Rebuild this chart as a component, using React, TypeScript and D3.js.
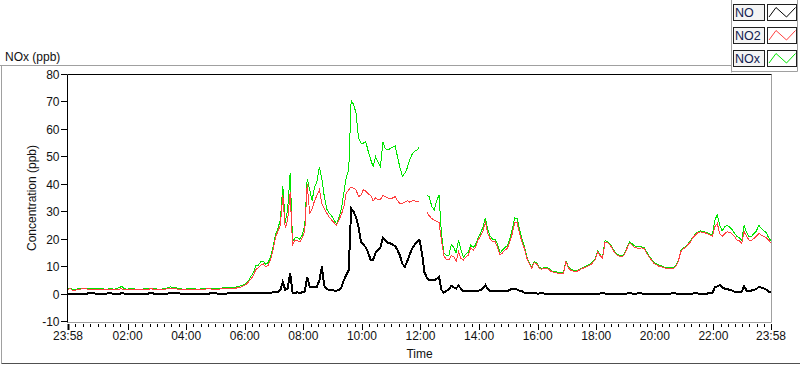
import React, { useEffect, useRef } from 'react'
import * as d3 from 'd3'

// sample spacing of the logged data, minutes
const STEP_MIN = 5
const START = new Date(2020, 0, 1, 23, 58)
const END = new Date(2020, 0, 2, 23, 58)

const TICK_HOURS = [2, 4, 6, 8, 10, 12, 14, 16, 18, 20, 22]
const Y_TICKS = [-10, 0, 10, 20, 30, 40, 50, 60, 70, 80]

const SERIES_NAMES = ['NO', 'NO2', 'NOx']

// one row per hour (12 samples, 5 min apart) starting 23:58, last value 23:58 next day
const NO_PPB = [
  0.2, 0.2, 0.1, 0.2, 0.2, 0.1, 0.1, 0.2, 0.2, 0.3, 0.3, 0.2,
  0.2, 0.1, 0.1, 0.2, 0.2, 0.3, 0.2, 0.2, 0.2, 0.1, 0.3, 0.2,
  0.1, 0.2, 0.2, 0.2, 0.2, 0.1, 0.1, 0.2, 0.2, 0.2, 0.3, 0.2,
  0.2, 0.2, 0.2, 0.1, 0.1, 0.2, 0.3, 0.3, 0.4, 0.3, 0.2, 0.2,
  0.2, 0.1, 0.1, 0.2, 0.2, 0.2, 0.2, 0.1, 0.1, 0.2, 0.2, 0.3,
  0.3, 0.2, 0.2, 0.2, 0.2, 0.2, 0.3, 0.3, 0.2, 0.3, 0.3, 0.3,
  0.3, 0.3, 0.3, 0.4, 0.4, 0.5, 0.5, 0.4, 0.5, 0.3, 0.4, 0.5,
  0.6, 0.8, 0.8, 1.5, 4.5, 1.5, 2, 7.6, 0.5, 0.5, 0.6, 0.5,
  0.6, 1, 6.3, 2.7, 2.5, 2.7, 2.7, 5, 10, 3, 1.8, 1.5,
  1.5, 1.3, 1.2, 1.5, 2.5, 5, 7, 8.7, 31.2, 30, 28, 24.5,
  19, 18, 17, 15, 12.4, 12.5, 15, 16, 17, 20.4, 19.5, 18.5,
  18.5, 18, 17.5, 16, 14, 11, 10, 12, 14.5, 16.5, 18, 19,
  19.7, 15, 8, 6, 5, 5, 5, 5.5, 6.3, 1.5, 0.5, 1.2,
  1.6, 3, 2.4, 2, 3, 2, 1, 1, 1.1, 1.1, 1, 1,
  1.2, 1.5, 2, 3.3, 1.8, 1.1, 1.1, 1, 1, 1, 1, 1,
  1.1, 1.5, 2, 2, 1.6, 1.2, 1, 0.5, 0.3, 0.3, 0.3, 0.3,
  0.2, 0.2, 0.3, 0.2, 0.2, 0.1, 0.2, 0.2, 0.2, 0.1, 0.2, 0.2,
  0.2, 0.2, 0.1, 0.2, 0.2, 0.2, 0.1, 0.2, 0.2, 0.2, 0.2, 0.2,
  0.2, 0.2, 0.2, 0.3, 0.2, 0.2, 0.2, 0.2, 0.1, 0.2, 0.2, 0.2,
  0.2, 0.2, 0.3, 0.2, 0.2, 0.2, 0.3, 0.2, 0.2, 0.2, 0.1, 0.2,
  0.2, 0.2, 0.2, 0.1, 0.2, 0.2, 0.2, 0.2, 0.3, 0.2, 0.2, 0.2,
  0.2, 0.2, 0.2, 0.2, 0.2, 0.3, 0.2, 0.2, 0.2, 0.2, 0.2, 0.3,
  0.3, 2.5, 2.8, 3.3, 2.5, 2, 2, 1.5, 1.3, 0.9, 0.9, 0.9,
  0.9, 2.9, 1.2, 0.9, 1.3, 1.5, 1.8, 2.7, 2.4, 2.1, 1.6, 0.9,
  0.9,
]

const NO2_PPB = [
  1.8, 1.9, 1.3, 1.4, 1.6, 1.7, 2.0, 1.9, 1.8, 1.6, 1.7, 1.8,
  1.6, 1.7, 1.8, 1.6, 1.5, 1.7, 1.6, 1.5, 1.7, 1.8, 1.9, 1.7,
  1.6, 1.7, 1.8, 1.7, 1.6, 1.5, 1.5, 1.6, 1.7, 1.8, 1.9, 1.8,
  1.7, 1.6, 1.6, 1.7, 1.8, 2.0, 2.2, 2.1, 2.0, 1.8, 1.7, 1.6,
  1.6, 1.7, 1.8, 1.7, 1.7, 1.6, 1.6, 1.7, 1.8, 1.9, 1.9, 1.8,
  1.7, 1.8, 1.8, 1.9, 2.0, 2.0, 1.9, 2.0, 2.1, 2.2, 2.4, 2.6,
  3, 3.5, 4.5, 5.5, 7, 9, 9.5, 10.5, 11, 10, 10.5, 12.5,
  16, 20.5, 23, 25, 36, 24, 27, 37, 18, 19.5, 19.5, 19,
  20.5, 23, 40, 29.5, 31, 34, 36, 38, 33, 31, 29.5, 28,
  27, 26, 25, 27, 29, 31.8, 36.8, 38, 39, 38.5, 38, 35.5,
  36, 38, 37.5, 36.5, 36, 34, 35, 34.5, 34.5, 36, 35.5, 35,
  35, 35, 35.5, 34, 33, 33, 33.5, 34, 33.5, 34, 34, 33.5,
  34, null, null, 30, 28.5, 27.5, 27, 26.5, 26, 19.7, 14, 12.5,
  12.4, 14, 13.6, 12, 15.4, 13, 12.4, 13.5, 14.2, 16.7, 16, 17,
  19.7, 21, 23, 26, 22, 20, 19, 19, 17, 14.2, 15, 16,
  16.7, 19, 22, 26, 26, 22, 19, 16.5, 13, 11, 9.4, 11.5,
  11, 9.4, 9, 9.4, 9.4, 9, 8.1, 8, 7.8, 7.5, 7.6, 7.5,
  11.8, 9.5, 8.7, 8.4, 8.1, 8.5, 9, 9.4, 9.8, 10.2, 10.6, 11.5,
  12.5, 15.4, 14, 13, 19, 18.7, 18, 16.5, 15, 14.2, 13.8, 13.6,
  14.5, 16.6, 18.5, 18, 17, 16.8, 16.6, 16.8, 16.6, 15, 13.6, 12.4,
  11.2, 10.8, 10.2, 10, 9.6, 9.4, 9.3, 9.4, 9.4, 10, 11.8, 15.4,
  16.5, 17, 18, 19, 20.5, 21.5, 22.3, 22.7, 22.5, 22.3, 22, 21.5,
  21, 24.5, 25.7, 22, 21, 22, 22.7, 22.5, 22, 21, 19.7, 19.5,
  18.5, 22.7, 21, 19.7, 19.5, 20.3, 21, 22.1, 21.5, 21, 20.5, 19.7,
  18.5,
]

const NOX_PPB = [
  2.0, 2.1, 1.5, 1.7, 1.9, 2.0, 2.2, 2.1, 2.1, 1.9, 1.9, 2.0,
  1.9, 1.9, 2.0, 1.8, 1.8, 1.9, 1.9, 1.8, 2.1, 2.3, 2.8, 2.0,
  1.8, 1.9, 2.1, 1.9, 1.8, 1.8, 1.7, 1.9, 2.0, 2.1, 2.2, 2.0,
  1.9, 1.8, 1.8, 1.9, 2.0, 2.3, 2.6, 2.5, 2.4, 2.1, 1.9, 1.8,
  1.8, 2.0, 2.1, 2.0, 1.9, 1.8, 1.8, 2.0, 2.1, 2.2, 2.2, 2.1,
  2.0, 2.1, 2.1, 2.2, 2.3, 2.3, 2.2, 2.3, 2.4, 2.6, 2.9, 3.0,
  3.4, 4, 5, 6.5, 8, 10.5, 10.5, 11.8, 12, 10.8, 11.5, 13.5,
  17, 21.5, 24, 27, 39.5, 26, 31, 44, 19, 20.5, 20.5, 20,
  21.5, 25, 42, 38, 34, 39, 41, 46.4, 42, 35.5, 31, 29.5,
  28.5, 27, 25.5, 28, 31, 36.8, 42.7, 45, 70.7, 69, 66, 57,
  55, 55, 55.5, 52, 49, 46.4, 50, 48, 46.4, 55.5, 53, 52.5,
  53, 53.5, 54, 50, 46, 43, 44, 46, 49, 51, 52, 52.5,
  53.7, null, null, 36, 35.5, 32, 30.6, 34, 36, 22, 15, 14,
  14, 18, 17, 15, 19.7, 16, 13.5, 14.5, 15.3, 17.8, 17, 18,
  20.5, 22, 24.5, 27.7, 23.5, 21, 20, 20, 18, 15, 16, 17,
  17.5, 20, 23.5, 27.7, 27.5, 23.5, 20, 17.2, 13.5, 11.3, 9.7, 11.8,
  11.3, 9.8, 9.3, 9.7, 9.7, 9.3, 8.4, 8.3, 8.1, 7.8, 8, 7.9,
  12.1, 9.8, 9, 8.7, 8.4, 8.8, 9.3, 9.7, 10.1, 10.5, 10.9, 11.8,
  12.8, 15.7, 14.3, 13.3, 19.5, 19.2, 18.4, 16.9, 15.4, 14.6, 14.1, 13.9,
  14.8, 17, 19, 18.4, 17.6, 17.4, 17.5, 17.2, 17, 15.4, 14, 12.7,
  11.5, 11.1, 10.5, 10.3, 9.9, 9.7, 9.6, 9.7, 9.7, 10.3, 12.1, 15.7,
  16.8, 17.3, 18.3, 19.3, 20.8, 21.8, 22.6, 23, 22.8, 22.6, 22.3, 21.8,
  21.5, 27, 28.8, 25, 23, 24.5, 25, 24.5, 23.5, 22.3, 21, 20.5,
  19.5, 25, 22.5, 21, 21, 22, 23, 25, 24, 23, 22.5, 20.5,
  19.5,
]

const COLORS = { NO: '#000000', NO2: '#ff4040', NOx: '#00e600' }
const FONT = '"Liberation Sans", Arial, sans-serif'

export default function App() {
  const ref = useRef<SVGSVGElement>(null)

  useEffect(() => {
    document.body.style.margin = '0'
    const svg = d3.select(ref.current)
    svg.selectAll('*').remove()

    const left = 68, right = 771, top = 74.5, bottom = 321.5

    const x = d3.scaleTime().domain([START, END]).range([left, right])
    const y = d3.scaleLinear().domain([-10, 80]).range([bottom, top])
    const timeAt = (i: number) => d3.timeMinute.offset(START, i * STEP_MIN)

    // outer panel
    svg.append('text')
      .attr('x', 5).attr('y', 61)
      .attr('font-family', FONT).attr('font-size', 12).attr('fill', '#111')
      .text('NOx (ppb)')
    svg.append('path')
      .attr('d', 'M0,65.5H731.5V72.5')
      .attr('fill', 'none').attr('stroke', '#a0a0a0')
    svg.append('path')
      .attr('d', 'M1.5,65.5V363.5')
      .attr('fill', 'none').attr('stroke', '#a0a0a0')
    svg.append('path')
      .attr('d', 'M1.5,363.5H800')
      .attr('fill', 'none').attr('stroke', '#505050')

    // legend panel
    const legend = svg.append('g')
    legend.append('path')
      .attr('d', 'M731.5,0V71.5H797.5V0')
      .attr('fill', '#fff').attr('stroke', '#a0a0a0')
    SERIES_NAMES.forEach((name, k) => {
      const y0 = 4.5 + k * 23
      legend.append('rect')
        .attr('x', 733.5).attr('y', y0).attr('width', 31).attr('height', 16)
        .attr('fill', '#f4f4f4').attr('stroke', '#202020')
      legend.append('text')
        .attr('x', 735).attr('y', y0 + 12.5)
        .attr('font-family', FONT).attr('font-size', 12.5).attr('fill', '#102050')
        .text(name)
      legend.append('rect')
        .attr('x', 767.5).attr('y', y0).attr('width', 29).attr('height', 16)
        .attr('fill', '#fff').attr('stroke', '#202020')
      legend.append('path')
        .attr('d', `M769,${y0 + 12.5}L776,${y0 + 3}L786.5,${y0 + 12.5}L795.5,${y0 + 3}`)
        .attr('fill', 'none').attr('stroke', (COLORS as any)[name]).attr('stroke-width', 1)
    })

    // plot area
    svg.append('rect')
      .attr('x', 67.5).attr('y', top).attr('width', 704).attr('height', 248)
      .attr('fill', '#fff').attr('stroke', 'none')
    svg.append('defs').append('clipPath').attr('id', 'plotclip')
      .append('rect').attr('x', 68).attr('y', top + 0.5).attr('width', 703.5).attr('height', 247)

    // data lines, green under red under black
    const series = [
      { name: 'NOx', values: NOX_PPB, w: 1 },
      { name: 'NO2', values: NO2_PPB, w: 1 },
      { name: 'NO', values: NO_PPB, w: 2 },
    ]
    const g = svg.append('g').attr('clip-path', 'url(#plotclip)')
    for (let s of series) {
      const line = d3.line<number | null>()
        .defined((d) => d != null)
        .x((d, i) => x(timeAt(i)))
        .y((d) => y(d as number))
      g.append('path')
        .attr('d', line(s.values))
        .attr('fill', 'none')
        .attr('stroke', (COLORS as any)[s.name])
        .attr('stroke-width', s.w)
        .attr('shape-rendering', 'crispEdges')
    }

    svg.append('path')
      .attr('d', `M771.5,${top}V322.5H67.5`)
      .attr('fill', 'none').attr('stroke', '#a0a0a0')
    svg.append('path')
      .attr('d', `M67.5,322.5V${top}H771.5`)
      .attr('fill', 'none').attr('stroke', '#000')

    // y axis
    const ya = svg.append('g')
    for (let v of Y_TICKS) {
      const yy = Math.round(y(v) - 0.5) + 0.5
      ya.append('line')
        .attr('x1', 61).attr('x2', 67).attr('y1', yy).attr('y2', yy)
        .attr('stroke', '#000')
      ya.append('text')
        .attr('x', 59.5).attr('y', yy).attr('dy', '0.36em')
        .attr('text-anchor', 'end')
        .attr('font-family', FONT).attr('font-size', 12).attr('fill', '#111')
        .text(v)
    }
    svg.append('text')
      .attr('transform', `translate(36,${(top + bottom) / 2}) rotate(-90)`)
      .attr('text-anchor', 'middle')
      .attr('font-family', FONT).attr('font-size', 12).attr('fill', '#111')
      .text('Concentration (ppb)')

    // x axis: majors at the ends and every 2 h, 8 minor steps in between
    const majors = [START, ...TICK_HOURS.map((h) => new Date(2020, 0, 2, h, 0)), END]
    const xa = svg.append('g')
    const fmt = d3.timeFormat('%H:%M')
    majors.forEach((t, k) => {
      const xx = Math.round(x(t)) + 0.5
      xa.append('line')
        .attr('x1', xx).attr('x2', xx).attr('y1', 324).attr('y2', 330)
        .attr('stroke', '#000').attr('stroke-width', k === 0 ? 2 : 1)
      xa.append('text')
        .attr('x', x(t)).attr('y', 340)
        .attr('text-anchor', 'middle')
        .attr('font-family', FONT).attr('font-size', 12).attr('fill', '#111')
        .text(fmt(t))
      if (k < majors.length - 1) {
        const a = +t, b = +majors[k + 1]
        for (let m = 1; m < 8; m++) {
          const mx = Math.round(x(new Date(a + (b - a) * m / 8))) + 0.5
          xa.append('line')
            .attr('x1', mx).attr('x2', mx).attr('y1', 324).attr('y2', 327)
            .attr('stroke', '#000')
        }
      }
    })
    svg.append('text')
      .attr('x', (left + right) / 2).attr('y', 358)
      .attr('text-anchor', 'middle')
      .attr('font-family', FONT).attr('font-size', 12).attr('fill', '#111')
      .text('Time')
  }, [])

  return <svg ref={ref} width={800} height={365} style={{ display: 'block' }} />
}
